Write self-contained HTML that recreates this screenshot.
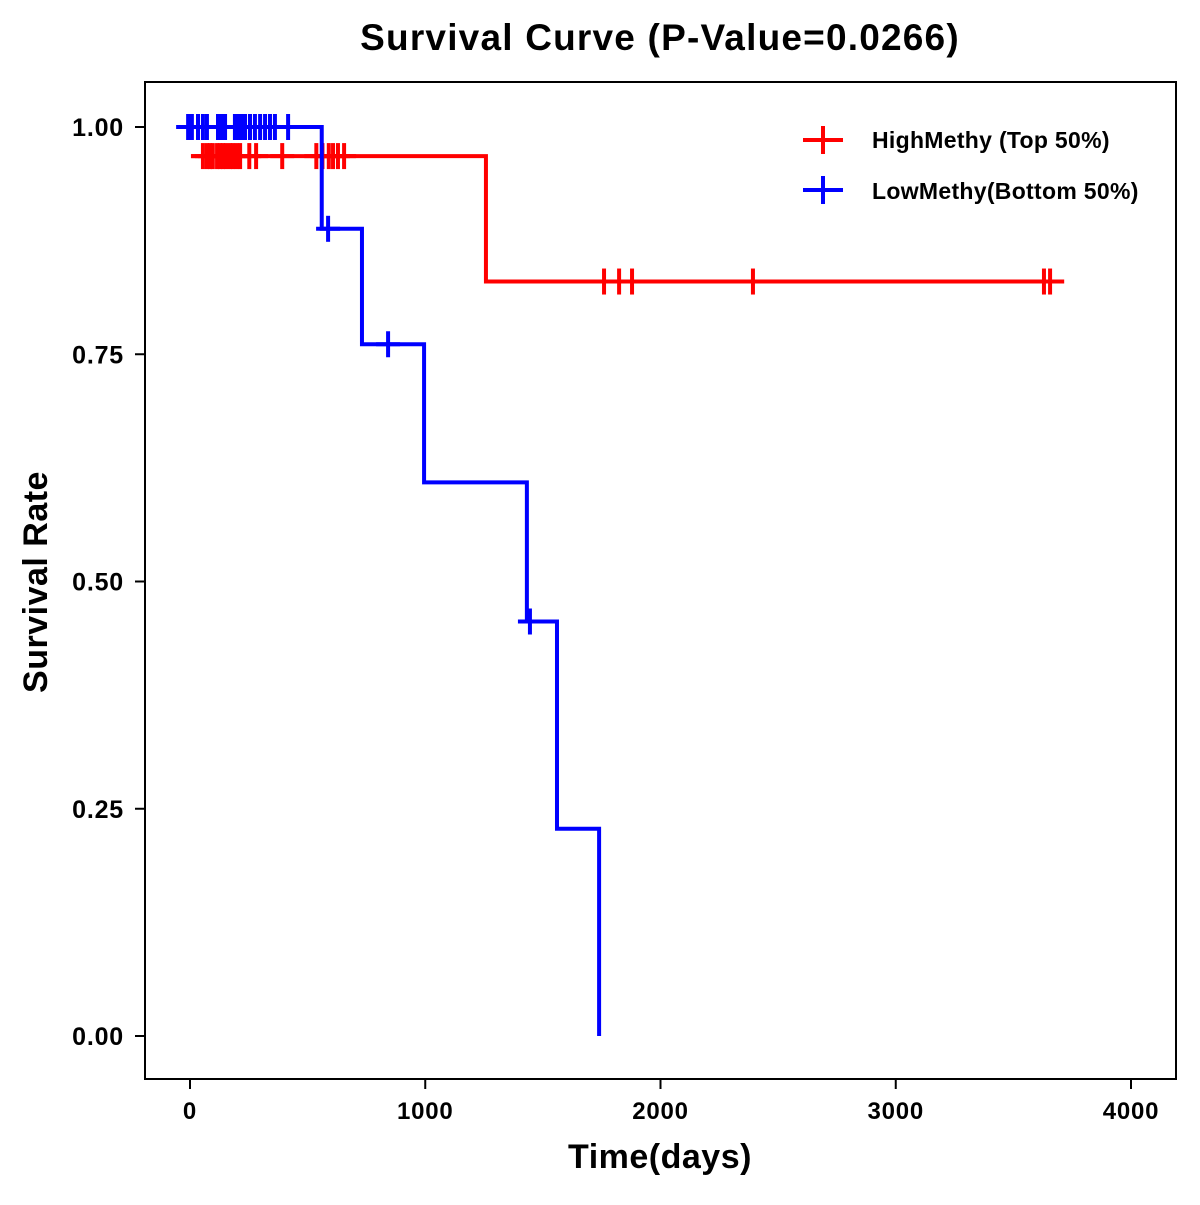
<!DOCTYPE html>
<html><head><meta charset="utf-8"><style>
html,body{margin:0;padding:0;background:#fff;}
svg text{font-family:"Liberation Sans",Arial,sans-serif;font-weight:bold;fill:#000;}
</style></head><body>
<svg id="chart" width="1200" height="1200" xmlns="http://www.w3.org/2000/svg">
<rect x="0" y="0" width="1200" height="1200" fill="#fff"/>
<text x="660" y="50" font-size="37" letter-spacing="1.2" text-anchor="middle">Survival Curve (P-Value=0.0266)</text>
<rect x="145" y="82" width="1031" height="997" fill="none" stroke="#000" stroke-width="2"/>
<g id="axes"></g>
<g id="series"></g>
<text x="660" y="1168" font-size="34" letter-spacing="0.5" text-anchor="middle">Time(days)</text>
<text transform="translate(47,582) rotate(-90)" font-size="34" letter-spacing="0.5" text-anchor="middle">Survival Rate</text>
<g>
  <g>
    <line x1="803" y1="140" x2="843" y2="140" stroke="#f00" stroke-width="4"/>
    <line x1="823" y1="126" x2="823" y2="154" stroke="#f00" stroke-width="4"/>
    <text x="872" y="148" font-size="23" letter-spacing="0.3">HighMethy (Top 50%)</text>
  </g>
  <g>
    <line x1="803" y1="190" x2="843" y2="190" stroke="#00f" stroke-width="4"/>
    <line x1="823" y1="176" x2="823" y2="204" stroke="#00f" stroke-width="4"/>
    <text x="872" y="199" font-size="23" letter-spacing="0.3">LowMethy(Bottom 50%)</text>
  </g>
</g>
</svg>
<script>
const xTicks = [0, 1000, 2000, 3000, 4000];
const yTicks = [0, 0.25, 0.5, 0.75, 1.0];
const yTickLabels = ["0.00", "0.25", "0.50", "0.75", "1.00"];
const highTimes = [5, 1258, 3716];
const highSurv = [0.968, 0.83, 0.83];
const highCensor = [55,72,85,97,115,128,140,153,170,183,198,213,252,281,392,537,563,590,608,629,655,1760,1824,1879,2393,3630,3656];
const lowTimes = [-50, 560, 731, 995, 1432, 1560, 1739];
const lowSurv = [1.0, 0.888, 0.761, 0.609, 0.456, 0.228, 0];
const lowCensor = [-8,8,34,55,72,119,136,149,191,204,221,234,255,276,298,319,340,361,417,587,842,1445];

const X = t => 190 + t * 0.23525;
const Y = v => 1036 - v * 909;
const NS = "http://www.w3.org/2000/svg";
function mk(tag, attrs, parent){const e=document.createElementNS(NS,tag);for(const k in attrs)e.setAttribute(k,attrs[k]);parent.appendChild(e);return e;}
const axes=document.getElementById('axes'), series=document.getElementById('series');

xTicks.forEach(t=>{
  const l=mk('line',{x1:X(t),x2:X(t),y1:1079,y2:1089,stroke:'#000','stroke-width':2},axes);
  
  
  const tx=mk('text',{x:X(t),y:1119,'font-size':24,'letter-spacing':0.8,'text-anchor':'middle'},axes);
  tx.textContent=t;
  
  
});
yTicks.forEach((v,i)=>{
  const l=mk('line',{x1:135,x2:145,y1:Y(v),y2:Y(v),stroke:'#000','stroke-width':2},axes);
  
  
  const tx=mk('text',{x:124,y:Y(v)+9,'font-size':25,'letter-spacing':0.8,'text-anchor':'end'},axes);
  tx.textContent=yTickLabels[i];
  
  
});

function survAt(times,surv,t){let s=surv[0];for(let i=0;i<times.length;i++){if(t>=times[i])s=surv[i];}return s;}
function drawSeries(times,surv,cens,color,name){
  let d=`M${X(times[0])},${Y(surv[0])}`;
  for(let i=1;i<times.length;i++){d+=` H${X(times[i])} V${Y(surv[i])}`;}
  const p=mk('path',{d:d,fill:'none',stroke:color,'stroke-width':4},series);
  
  
  cens.forEach(t=>{
    const s=survAt(times,surv,t);
    const g=mk('g',{},series);
    
    
    mk('line',{x1:X(t)-12,x2:X(t)+12,y1:Y(s),y2:Y(s),stroke:color,'stroke-width':4},g);
    mk('line',{x1:X(t),x2:X(t),y1:Y(s)-13,y2:Y(s)+13,stroke:color,'stroke-width':4},g);
  });
}
drawSeries(highTimes,highSurv,highCensor,'#f00','high-methy');
drawSeries(lowTimes,lowSurv,lowCensor,'#00f','low-methy');
</script>
</body></html>
